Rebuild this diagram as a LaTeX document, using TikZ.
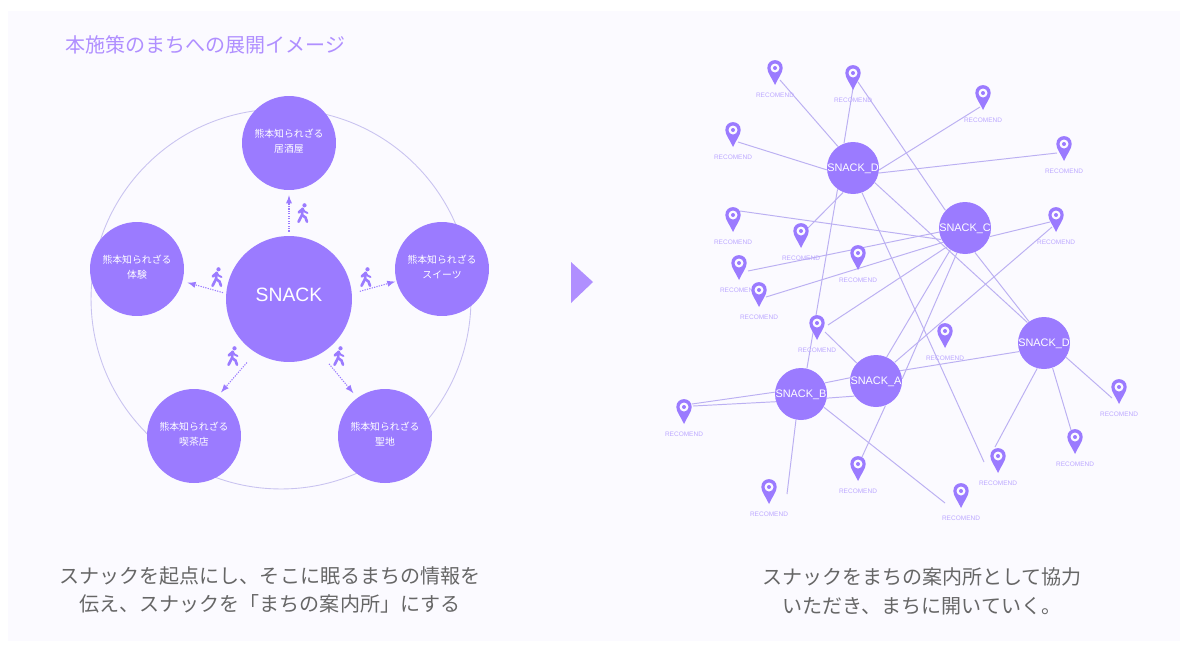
\documentclass[tikz,border=0pt]{standalone}
\usepackage{fontspec}
\setmainfont{Liberation Sans}
\newfontfamily\cjk{Noto Sans CJK JP}
\definecolor{panelbg}{HTML}{FBFAFF}
\definecolor{hubcol}{HTML}{9B7BFF}
\definecolor{titlecol}{HTML}{B08FFF}
\definecolor{linkcol}{HTML}{BBB0F2}
\definecolor{ringcol}{HTML}{C9C3F0}
\definecolor{labelcol}{HTML}{BDA9FF}
\definecolor{captioncol}{HTML}{666666}
\newcommand{\nowidth}[1]{\makebox[0pt]{\smash{\raisebox{-2.2pt}{#1}}}}
\tikzset{
	spot/.style={circle,fill=hubcol,inner sep=0pt,minimum size=1.88cm,text=white,align=center,font=\cjk\fontsize{5.6}{8.5}\selectfont},
	hub/.style={circle,fill=hubcol,inner sep=0pt,minimum size=1.04cm,text=white,font=\fontsize{6.2}{7}\selectfont},
	recomend/.style={text=labelcol,inner sep=0pt,font=\fontsize{3.7}{4}\selectfont},
	caption/.style={text=captioncol,align=center,inner sep=0pt,font=\cjk\fontsize{11.4}{16.4}\selectfont},
	link/.style={draw=linkcol,line width=0.55pt},
	walkline/.style={draw=hubcol,line width=0.6pt,dash pattern=on 0.7pt off 0.7pt,-latex},
	pinmark/.pic={
		\fill[hubcol] (0,17) .. controls (-3,10) and (-7.7,5) .. (-7.7,0) .. controls (-7.7,-10.5) and (7.7,-10.5) .. (7.7,0) .. controls (7.7,5) and (3,10) .. (0,17) -- cycle;
		\fill[panelbg] (0,0) circle (4.5);
		\fill[hubcol] (0,0) circle (2);
	},
	walker/.pic={
		\fill[hubcol] (1.5,-7.7) circle (2.1);
		\draw[hubcol,line width=1.5pt,line cap=round,line join=round] (-4.2,-0.5) -- (-0.3,-4.3) -- (-1,2) -- (-4.5,8.8);
		\draw[hubcol,line width=1.5pt,line cap=round,line join=round] (-1,2) -- (2.5,4.5) -- (4,8.8);
		\draw[hubcol,line width=1.1pt,line cap=round,line join=round] (-0.3,-4.3) -- (1.5,-1.5) -- (4.5,0);
	},
}
\begin{document}
\begin{tikzpicture}[x=0.02cm,y=-0.02cm]
	\useasboundingbox (0,0) rectangle (1189,653);
	\fill[panelbg] (8,11) rectangle (1180,641);
	\node[text=titlecol,anchor=west,inner sep=0pt,font=\cjk\fontsize{11.4}{14}\selectfont] (title) at (65,45) {本施策のまちへの展開イメージ};

	% left side
	\node[circle,draw=ringcol,line width=0.5pt,inner sep=0pt,minimum size=7.6cm] (ring) at (281,299) {};
	\node[circle,fill=hubcol,inner sep=0pt,minimum size=2.52cm,text=white,font=\fontsize{11}{13}\selectfont] (snack) at (289,299) {\smash{\raisebox{-1.15pt}{SNACK}}};
	\node[spot] (izakaya) at (289,143) {熊本知られざる\\居酒屋\\[-5.7pt]};
	\node[spot] (sweets) at (442,269) {熊本知られざる\\スイーツ\\[-5.7pt]};
	\node[spot] (taiken) at (137,269) {熊本知られざる\\体験\\[-5.7pt]};
	\node[spot] (kissa) at (194,436) {熊本知られざる\\喫茶店\\[-5.7pt]};
	\node[spot] (seichi) at (385,436) {熊本知られざる\\聖地\\[-5.7pt]};
	\draw[walkline,shorten <=0.08cm,shorten >=0.1cm] (snack.90) -- (izakaya.270);
	\draw[walkline,shorten <=0.16cm,shorten >=0.02cm] (snack.5) -- (sweets.195);
	\draw[walkline,shorten <=0.06cm,shorten >=0.1cm] (snack.175) -- (taiken.345);
	\draw[walkline,shorten <=0.26cm,shorten >=0.08cm] (snack.238) -- (kissa.59);
	\draw[walkline,shorten <=0.26cm,shorten >=0.12cm] (snack.300) -- (seichi.126);
	\pic at (303,213) {walker};
	\pic at (366,277) {walker};
	\pic at (217,277) {walker};
	\pic at (233,356) {walker};
	\pic at (339,356) {walker};

	\fill[titlecol] (571,262) -- (593,282) -- (571,303) -- cycle;

	% right side
	\node[hub] (snackD) at (853,168) {\nowidth{SNACK\_D}};
	\node[hub] (snackC) at (965,228) {\nowidth{SNACK\_C}};
	\node[hub] (snackE) at (1044,343) {\nowidth{SNACK\_D}};
	\node[hub] (snackA) at (876,381) {\nowidth{SNACK\_A}};
	\node[hub] (snackB) at (801,394) {\nowidth{SNACK\_B}};

	\foreach \name/\x/\y in {endA/780/80,endB/853/88,endC/738/142,endD/808/228,endE/984/462,endF/980/107,endG/1057/153,endH/858/82,endI/740/211,endJ/748/271,endK/766/297,endL/828/325,endM/1050/222,endN/1052/227,endO/825/332,endP/862/457,endQ/995/447,endR/1071/430,endS/1112/398,endT/692/404,endU/693/406,endV/787/494,endW/945/503}
		\coordinate (\name) at (\x,\y);

	\foreach \hub/\ang/\to in {snackD/125/endA,snackD/110/endB,snackD/184/endC,snackD/248/endD,snackD/290/endE,snackD/356/endF,snackD/349/endG,snackC/138/endH,snackC/206/endI,snackC/189/endJ,snackC/213/endK,snackC/226/endL,snackC/341/endM,snackA/45/endN,snackA/137/endO,snackA/291/endP,snackE/255/endQ,snackE/289/endR,snackE/327/endS,snackB/176/endT,snackB/197/endU,snackB/259/endV,snackB/330/endW}
		\draw[link] (\hub.\ang) -- (\to);
	\draw[link] (snackD.234) -- (snackB.77);
	\draw[link] (snackD.326) -- (snackE.129);
	\draw[link] (snackC.236) -- (snackA.66);
	\draw[link] (snackC.252) -- (snackA.5);
	\draw[link] (snackC.292) -- (snackE.125);
	\draw[link] (snackA.23) -- (snackE.199);
	\draw[link] (snackA.173) -- (snackB.25);
	\draw[link] (snackA.215) -- (snackB.351);

	\foreach \i/\x/\y in {1/775/68,2/853/73,3/733/130,4/733/215,5/801/231,6/858/253,7/739/263,8/759/290,9/983/93,10/1064/144,11/1056/215,12/817/323,13/684/407,14/769/487,15/858/464,16/945/331,17/1119/387,18/1075/437,19/998/456,20/961/491}{
		\node[recomend] (rec\i) at (\x,\y+27) {RECOMEND};
		\pic (pin\i) at (\x,\y) {pinmark};
	}

	\node[caption] (captionL) at (270,590) {スナックを起点にし、そこに眠るまちの情報を\\伝え、スナックを「まちの案内所」にする};
	\node[caption] (captionR) at (922,591) {スナックをまちの案内所として協力\\いただき、まちに開いていく。};
\end{tikzpicture}
\end{document}
